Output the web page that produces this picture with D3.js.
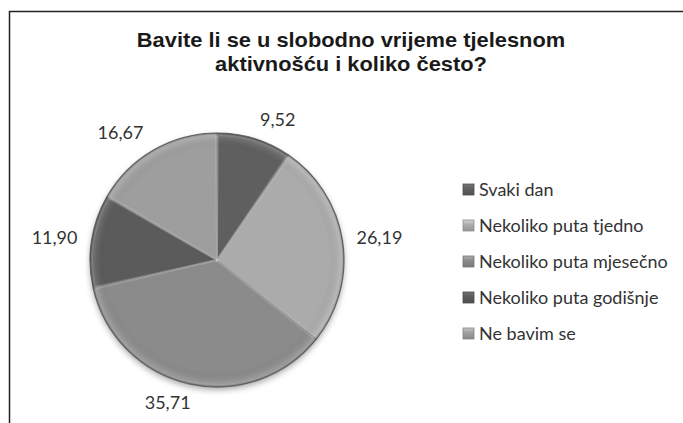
<!DOCTYPE html>
<html>
<head>
<meta charset="utf-8">
<script src="https://cdn.jsdelivr.net/npm/d3@7"></script>
<style>
  body { margin: 0; background: #fff; }
  svg { display: block; }
</style>
</head>
<body>
<svg id="chart" width="683" height="423"></svg>
<script>
var categories = ["Svaki dan", "Nekoliko puta tjedno", "Nekoliko puta mjesečno", "Nekoliko puta godišnje", "Ne bavim se"];
var values = [9.52, 26.19, 35.71, 11.90, 16.67];
var labels = ["9,52", "26,19", "35,71", "11,90", "16,67"];
var sliceColors = ["#5f5f5f", "#ababab", "#8b8b8b", "#5b5b5b", "#9e9e9e"];
var titleLines = ["Bavite li se u slobodno vrijeme tjelesnom", "aktivnošću i koliko često?"];

var svg = d3.select("#chart");
var cx = 217, cy = 260, r = 127;

// frame (only top and left edges visible in the crop)
svg.append("path")
    .attr("d", "M9.5,683 L9.5,11.5 L683,11.5")
    .attr("fill", "none")
    .attr("stroke", "#222")
    .attr("stroke-width", 1.5);

// title
svg.append("g")
    .selectAll("text")
    .data(titleLines)
    .join("text")
    .attr("x", 351)
    .attr("y", (d, i) => 47 + i * 24)
    .attr("text-anchor", "middle")
    .attr("font-family", "Liberation Sans, Arial, sans-serif")
    .attr("font-weight", "bold")
    .attr("font-size", 20.5)
    .attr("fill", "#1a1a1a")
    .text(d => d)
    .each(function () {
        // ref title is a bit wider than the font gives
        var w = this.getComputedTextLength();
        d3.select(this).attr("textLength", w * 1.065).attr("lengthAdjust", "spacingAndGlyphs");
    });

var defs = svg.append("defs");

// bevel look: darker rim at the outside of the pie
var rim = defs.append("radialGradient")
    .attr("id", "rim")
    .attr("gradientUnits", "userSpaceOnUse")
    .attr("cx", cx).attr("cy", cy).attr("r", r);
rim.append("stop").attr("offset", "0%").attr("stop-color", "#000").attr("stop-opacity", 0);
rim.append("stop").attr("offset", "88%").attr("stop-color", "#000").attr("stop-opacity", 0);
rim.append("stop").attr("offset", "97%").attr("stop-color", "#fff").attr("stop-opacity", 0.12);
rim.append("stop").attr("offset", "100%").attr("stop-color", "#000").attr("stop-opacity", 0.25);

var shadow = defs.append("filter").attr("id", "shadow")
    .attr("x", "-10%").attr("y", "-10%").attr("width", "120%").attr("height", "125%");
shadow.append("feGaussianBlur").attr("in", "SourceAlpha").attr("stdDeviation", 3);
shadow.append("feOffset").attr("dx", 0).attr("dy", 3).attr("result", "blur");
shadow.append("feComponentTransfer").append("feFuncA").attr("type", "linear").attr("slope", 0.35);
var merge = shadow.append("feMerge");
merge.append("feMergeNode");
merge.append("feMergeNode").attr("in", "SourceGraphic");

// legend marker gradients
sliceColors.forEach((c, i) => {
    var g = defs.append("linearGradient")
        .attr("id", "lg" + i)
        .attr("x1", 0).attr("y1", 0).attr("x2", 0).attr("y2", 1);
    g.append("stop").attr("offset", "0%").attr("stop-color", d3.color(c).brighter(0.6));
    g.append("stop").attr("offset", "45%").attr("stop-color", c);
    g.append("stop").attr("offset", "100%").attr("stop-color", d3.color(c).darker(0.4));
});

var pie = d3.pie().sort(null).value(d => d);
var arcs = pie(values);
var arc = d3.arc().innerRadius(0).outerRadius(r);

var pieG = svg.append("g")
    .attr("transform", "translate(" + cx + "," + cy + ")");

pieG.append("circle")
    .attr("r", r)
    .attr("fill", "#888")
    .attr("filter", "url(#shadow)");

pieG.selectAll("path.slice")
    .data(arcs)
    .join("path")
    .attr("class", "slice")
    .attr("d", arc)
    .attr("fill", (d, i) => sliceColors[i])
    .attr("stroke", "#6d6d6d")
    .attr("stroke-width", 1.2)
    .attr("stroke-linejoin", "round");

// inner highlight along slice edges
pieG.selectAll("path.hl")
    .data(arcs)
    .join("path")
    .attr("class", "hl")
    .attr("d", d3.arc().innerRadius(0).outerRadius(r - 2).padAngle(0.012))
    .attr("fill", "none")
    .attr("stroke", "#fff")
    .attr("stroke-opacity", 0.18)
    .attr("stroke-width", 2);

pieG.append("circle")
    .attr("r", r)
    .attr("fill", "url(#rim)")
    .attr("transform", "translate(" + (-cx) + "," + (-cy) + ")")
    .attr("cx", cx).attr("cy", cy);

// data labels, "outside end": anchor just past the rim, then push the box outward
var lbl = svg.append("g")
    .selectAll("text")
    .data(arcs)
    .join("text")
    .attr("text-anchor", "middle")
    .attr("font-family", "Lato, sans-serif")
    .attr("font-size", 18)
    .attr("fill", "#333")
    .text((d, i) => labels[i]);

lbl.each(function (d) {
    var a = (d.startAngle + d.endAngle) / 2;
    var s = Math.sin(a), c = Math.cos(a);
    var halfW = this.getComputedTextLength() / 2;
    var ax = cx + (r + 8) * s, ay = cy - (r + 8) * c;
    var x = ax + Math.sign(s) * (halfW + 6) * Math.min(1, Math.abs(s) * 3);
    var y = ay - c * 12;
    d3.select(this).attr("x", x).attr("y", y + 6);
});

// legend
var legend = svg.append("g")
    .attr("transform", "translate(463,184)");

var rows = legend.selectAll("g")
    .data(categories)
    .join("g")
    .attr("transform", (d, i) => "translate(0," + i * 36 + ")");

rows.append("rect")
    .attr("width", 11)
    .attr("height", 11)
    .attr("fill", (d, i) => "url(#lg" + i + ")")
    .attr("stroke", (d, i) => d3.color(sliceColors[i]).darker(0.5))
    .attr("stroke-width", 0.8);

rows.append("text")
    .attr("x", 16)
    .attr("y", 12)
    .attr("font-family", "Lato, sans-serif")
    .attr("font-size", 18)
    .attr("fill", "#333")
    .text(d => d);
</script>
</body>
</html>
